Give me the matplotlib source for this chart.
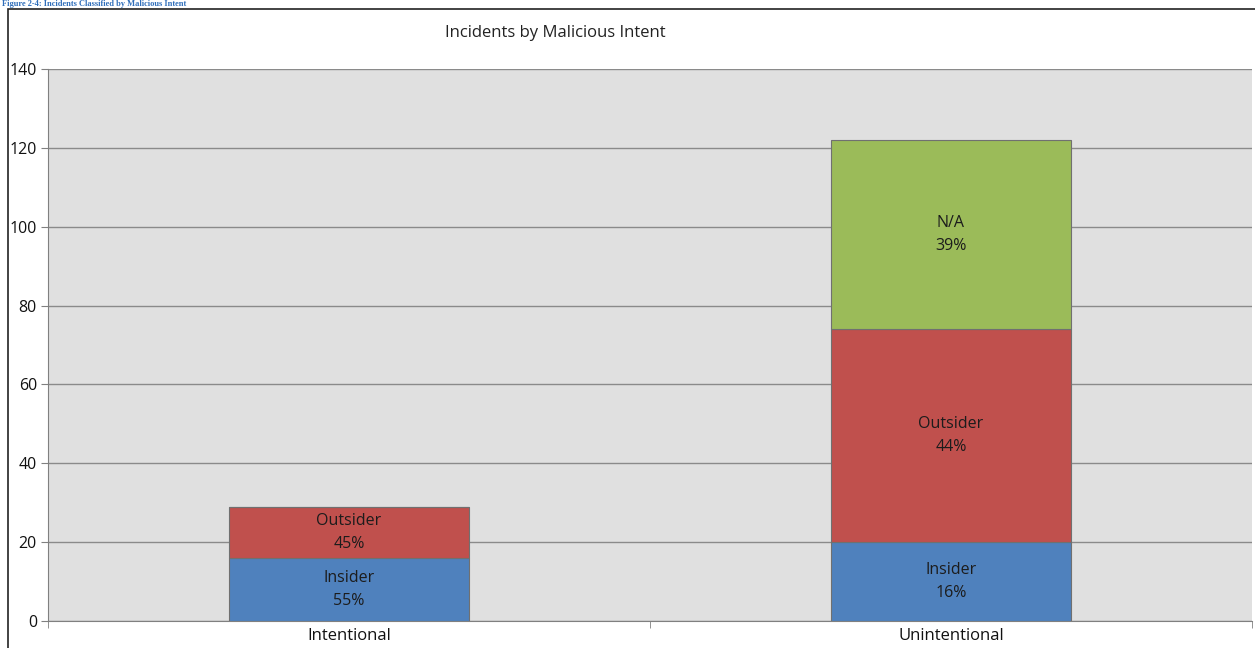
import matplotlib
matplotlib.use("Agg")
import matplotlib.pyplot as plt
import numpy as np
from matplotlib.patches import Rectangle

# ── data ──
categories = ["Intentional", "Unintentional"]
insider  = [16, 20]
outsider = [13, 54]
na       = [0, 48]
seg_names  = ["Insider", "Outsider", "N/A"]
seg_colors = ["#4F81BD", "#C0504D", "#9BBB59"]
y_ticks = [0, 20, 40, 60, 80, 100, 120, 140]

caption = "Figure 2-4: Incidents Classified by Malicious Intent"
title = "Incidents by Malicious Intent"

plt.rcParams["font.family"] = ["Open Sans", "DejaVu Sans"]

W, H = 1255, 648
fig = plt.figure(figsize=(W / 100, H / 100), dpi=100)
px = lambda x: x / W
py = lambda y: 1 - y / H

# chart frame (runs off the right/bottom edge)
fig.patches.append(Rectangle((px(8), py(700)), 2, py(9) - py(700),
                             transform=fig.transFigure, fill=False,
                             edgecolor="#222222", lw=1.2))

# caption above the frame
fig.text(px(2), py(0.5), caption, ha="left", va="top", fontsize=6,
         fontweight="bold", family="Liberation Serif", color="#2F6EBA")

ax = fig.add_axes([px(48), py(621), px(1252) - px(48), py(69) - py(621)])
ax.set_facecolor("#E0E0E0")

x = np.arange(len(categories))
stacks = [insider, outsider, na]
bottom = np.zeros(len(categories))
totals = np.sum(stacks, axis=0)
for vals, name, col in zip(stacks, seg_names, seg_colors):
    vals = np.array(vals, dtype=float)
    ax.bar(x, vals, width=0.4, bottom=bottom, color=col,
           edgecolor="#707070", linewidth=0.8, zorder=3)
    for i, v in enumerate(vals):
        if v > 0:
            pct = round(100 * v / totals[i])
            ax.text(x[i], bottom[i] + v / 2, f"{name}\n{pct:.0f}%",
                    ha="center", va="center", fontsize=11.5,
                    color="#1c1c1c", linespacing=1.55, zorder=4)
    bottom += vals

ax.set_xlim(-0.5, 1.5)
ax.set_ylim(0, 140)
ax.set_yticks(y_ticks)
ax.yaxis.grid(True, color="#8A8A8A", lw=1, zorder=0)
ax.set_axisbelow(True)

ax.set_xticks(x)
ax.set_xticklabels(categories, fontsize=12, color="#111111")
ax.set_xticks([-0.5, 0.5, 1.5], minor=True)
ax.tick_params(axis="x", which="major", length=0, pad=5)
ax.tick_params(axis="x", which="minor", length=5, color="#808080", direction="out")
ax.tick_params(axis="y", length=5, color="#808080", direction="out",
               labelsize=11.5, labelcolor="#111111", pad=3)

for s in ["top", "right"]:
    ax.spines[s].set_visible(False)
ax.spines["left"].set_color("#808080")
ax.spines["bottom"].set_color("#808080")

fig.text(px(555), py(33), title, ha="center", va="center",
         fontsize=12, color="#222222")

plt.savefig("out.png", dpi=100)
